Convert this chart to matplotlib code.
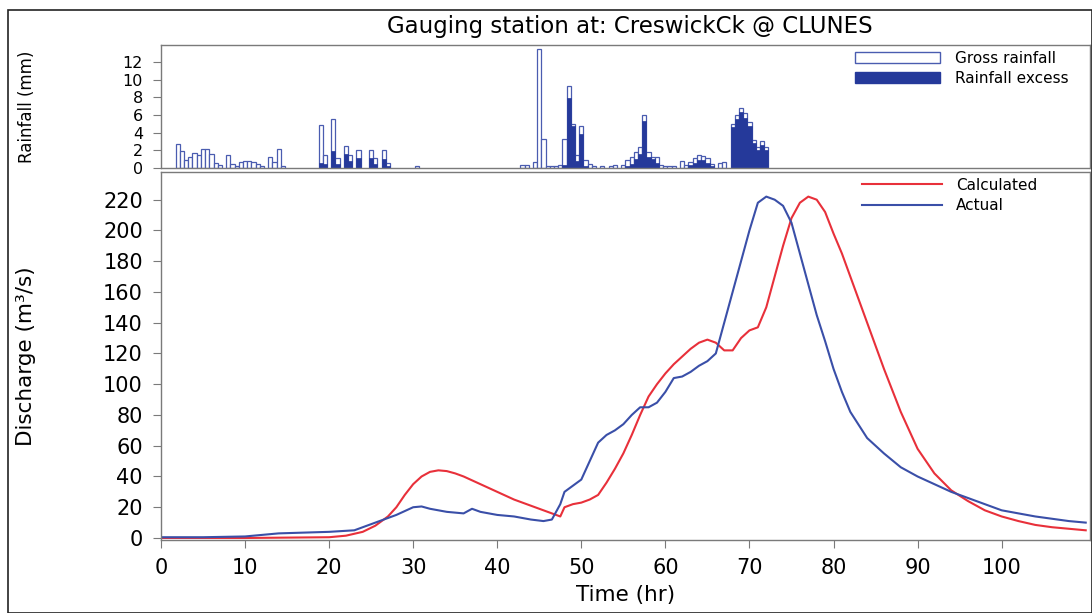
import numpy as np
import matplotlib
matplotlib.use('Agg')
import matplotlib.pyplot as plt
from matplotlib.patches import Rectangle, Patch

plt.rcParams['font.family'] = ['DejaVu Sans']

# rainfall, 0.5 hr bars (centre time, gross mm, excess mm)
rain_time = [2.0, 2.5, 3.0, 3.5, 4.0, 4.5, 5.0, 5.5, 6.0, 6.5, 7.0, 8.0, 8.5, 9.0, 9.5,
             10.0, 10.5, 11.0, 11.5, 12.0, 13.0, 13.5, 14.0, 14.5,
             19.0, 19.5, 20.5, 21.0, 22.0, 22.5, 23.5, 25.0, 25.5, 26.5, 27.0, 30.5,
             43.0, 43.5, 44.5, 45.0, 45.5, 46.0, 46.5, 47.0, 47.5, 48.0, 48.5, 49.0,
             49.5, 50.0, 50.5, 51.0, 51.5, 52.5, 53.5, 54.0,
             55.0, 55.5, 56.0, 56.5, 57.0, 57.5, 58.0, 58.5, 59.0, 59.5, 60.0, 60.5,
             61.0, 62.0, 62.5, 63.0, 63.5, 64.0, 64.5, 65.0, 65.5, 66.5, 67.0,
             68.0, 68.5, 69.0, 69.5, 70.0, 70.5, 71.0, 71.5, 72.0]
gross = [2.7, 1.9, 0.9, 1.3, 1.7, 1.5, 2.1, 2.1, 1.6, 0.6, 0.3, 1.5, 0.4, 0.2, 0.7,
         0.8, 0.8, 0.7, 0.5, 0.2, 1.3, 0.7, 2.1, 0.2,
         4.9, 1.5, 5.5, 1.1, 2.5, 1.5, 2.0, 2.0, 1.1, 2.0, 0.6, 0.2,
         0.3, 0.3, 0.7, 13.4, 3.3, 0.2, 0.2, 0.2, 0.3, 3.3, 9.3, 5.0,
         1.5, 4.7, 0.9, 0.5, 0.2, 0.2, 0.2, 0.3,
         0.3, 0.9, 1.3, 1.8, 2.4, 6.0, 1.8, 1.3, 1.3, 0.3, 0.2, 0.2,
         0.2, 0.8, 0.3, 0.7, 1.1, 1.5, 1.4, 1.1, 0.5, 0.6, 0.7,
         5.0, 6.0, 6.8, 6.2, 5.2, 3.2, 2.4, 3.0, 2.4]
excess = [0, 0, 0, 0, 0, 0, 0, 0, 0, 0, 0, 0, 0, 0, 0,
          0, 0, 0, 0, 0, 0, 0, 0, 0,
          0.6, 0.4, 1.9, 0.5, 1.6, 0.8, 1.1, 1.1, 0.5, 1.0, 0.2, 0,
          0, 0, 0, 0, 0, 0, 0, 0, 0, 0.3, 7.9, 4.8,
          0.8, 3.9, 0.2, 0, 0, 0, 0, 0,
          0, 0.2, 0.5, 1.0, 1.6, 5.3, 1.3, 1.0, 0.6, 0, 0, 0,
          0, 0, 0, 0.3, 0.6, 0.9, 0.9, 0.6, 0.2, 0, 0,
          4.6, 5.5, 6.3, 5.6, 4.8, 2.8, 2.0, 2.6, 2.0]

# discharge hydrographs (m3/s)
act_t = [0, 5, 10, 14, 20, 23, 25, 27, 28, 30, 31, 32, 34, 36, 37, 38, 40, 42, 44,
         45.5, 46.5, 47.5, 48, 49, 50, 51, 52, 53, 54, 55, 56, 57, 58, 59, 60, 61,
         62, 63, 64, 65, 66, 67, 68, 69, 70, 71, 72, 73, 74, 75, 76, 77, 78, 79, 80,
         81, 82, 84, 86, 88, 90, 92, 94, 96, 98, 100, 102, 104, 106, 108, 110]
act_q = [0.5, 0.5, 1, 3, 4, 5, 9, 13, 15, 20, 20.5, 19, 17, 16, 19, 17, 15, 14, 12,
         11, 12, 22, 30, 34, 38, 50, 62, 67, 70, 74, 80, 85, 85, 88, 95, 104,
         105, 108, 112, 115, 120, 140, 160, 180, 200, 218, 222, 220, 216, 205, 185, 165, 145, 128, 110,
         95, 82, 65, 55, 46, 40, 35, 30, 26, 22, 18, 16, 14, 12.5, 11, 10]
calc_t = [0, 10, 20, 22, 24, 25.5, 27, 28, 29, 30, 31, 32, 33, 34, 35, 36, 38, 40, 42,
          44, 46, 47, 47.5, 48, 49, 50, 51, 52, 53, 54, 55, 56, 57, 58, 59, 60, 61,
          62, 63, 64, 65, 66, 67, 68, 69, 70, 71, 72, 73, 74, 75, 76, 77, 78, 79, 80,
          81, 82, 84, 86, 88, 90, 92, 94, 96, 98, 100, 102, 104, 106, 108, 110]
calc_q = [0, 0, 0.5, 1.5, 4, 8, 14, 20, 28, 35, 40, 43, 44, 43.5, 42, 40, 35, 30, 25,
          21, 17, 15, 14, 20, 22, 23, 25, 28, 36, 45, 55, 67, 80, 92, 100, 107, 113,
          118, 123, 127, 129, 127, 122, 122, 130, 135, 137, 150, 170, 190, 208, 218, 222, 220, 212, 198,
          185, 170, 140, 110, 82, 58, 42, 31, 24, 18, 14, 11, 8.5, 7, 6, 5]

bar_edge = '#4a5cb0'
bar_fill = '#25399a'
spine_c = '#7a7a7a'

fig = plt.figure(figsize=(10.92, 6.13), dpi=100)
fig.add_artist(Rectangle((8 / 1092, 0), 1 - 8 / 1092, 1 - 10 / 613, transform=fig.transFigure,
                         fill=False, edgecolor='#222222', linewidth=1.2))

axr = fig.add_axes([0.1474, 0.7259, 0.8507, 0.2007])
axq = fig.add_axes([0.1474, 0.1191, 0.8507, 0.6003], sharex=axr)

axr.bar(rain_time, gross, width=0.5, facecolor='white', edgecolor=bar_edge, linewidth=0.9)
axr.bar(rain_time, excess, width=0.5, facecolor=bar_fill, edgecolor=bar_fill, linewidth=0.5)
axr.set_ylim(0, 13.9)
axr.set_yticks([0, 2, 4, 6, 8, 10, 12])
axr.set_ylabel('Rainfall (mm)', fontsize=12)
axr.yaxis.set_label_coords(-0.135, 0.5)
axr.tick_params(axis='x', bottom=False, labelbottom=False)
axr.legend(handles=[Patch(facecolor='white', edgecolor=bar_edge, label='Gross rainfall'),
                    Patch(facecolor=bar_fill, edgecolor=bar_fill, label='Rainfall excess')],
           loc='upper left', bbox_to_anchor=(0.747, 0.95), frameon=False, fontsize=11,
           handlelength=5.6, handleheight=0.7, handletextpad=0.95, borderpad=0,
           borderaxespad=0, labelspacing=0.3)

axq.plot(calc_t, calc_q, color='#e8303a', linewidth=1.5, label='Calculated')
axq.plot(act_t, act_q, color='#3a4fa8', linewidth=1.5, label='Actual')
axq.set_ylim(-1.3, 238)
axq.set_xlim(0, 110.5)
axq.set_yticks(np.arange(0, 221, 20))
axq.set_xticks(np.arange(0, 101, 10))
axq.set_ylabel('Discharge (m\u00b3/s)', fontsize=15.5)
axq.yaxis.set_label_coords(-0.135, 0.5)
axq.set_xlabel('Time (hr)', fontsize=15.5, labelpad=5)
axq.legend(loc='upper left', bbox_to_anchor=(0.755, 0.985), frameon=False, fontsize=11,
           handlelength=5.2, handletextpad=0.95, borderpad=0, borderaxespad=0,
           labelspacing=0.35)

for ax in (axr, axq):
    for s in ax.spines.values():
        s.set_color(spine_c)
        s.set_linewidth(1.0)
    ax.tick_params(direction='out', length=6, color=spine_c, labelsize=15, pad=7)
# rainfall ticks are packed tight, a bit smaller so they don't collide
axr.tick_params(axis='y', labelsize=11.5, pad=7)

fig.text(0.577, 0.956, 'Gauging station at: CreswickCk @ CLUNES', ha='center', va='center', fontsize=16.5)

fig.savefig('out.png', dpi=100)
